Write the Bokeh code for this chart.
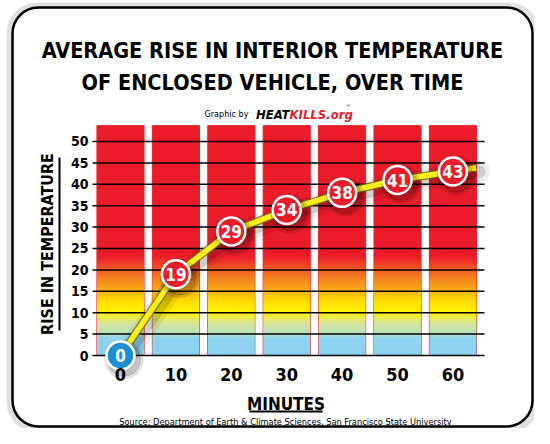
import numpy as np
from bokeh.plotting import figure
from bokeh.models import Range1d, FixedTicker, Label, BoxAnnotation
from bokeh.core.properties import value
from bokeh.embed import file_html
from bokeh.resources import INLINE

# ---- data ----
minutes = [0, 10, 20, 30, 40, 50, 60]
temp_rise = [0, 19, 29, 34, 38, 41, 43]
bar_top = [53.7] * 7
y_ticks = [0, 5, 10, 15, 20, 25, 30, 35, 40, 45, 50]
x_ticks = [0, 10, 20, 30, 40, 50, 60]
title1 = "AVERAGE RISE IN INTERIOR TEMPERATURE"
title2 = "OF ENCLOSED VEHICLE, OVER TIME"
source_text = "Source: Department of Earth & Climate Sciences, San Francisco State University"
# gradient colour stops (temperature value, colour)
grad_vals = [0, 4.0, 5.0, 7.5, 10.0, 12.5, 15.0, 17.5, 20.0, 23.0, 24.0]
grad_cols = ["#8dd3f2", "#8fd4ef", "#b9dfc0", "#d6e69a", "#fff200", "#ffe000",
             "#fbb116", "#f6891f", "#f15a24", "#e91d2a", "#e91d2a"]

FONT = "DejaVu Sans Condensed"
RED = "#e91d2a"

W, H = 534, 428
XS = 392 / 70.75   # px per minute
YS = 250 / 58.41   # px per degree

def xd(px):  # canvas x -> data x
    return (px - 120) / XS

def yd(py):  # canvas y -> data y
    return (355 - py) / YS

p = figure(width=W, height=H, output_backend="svg", toolbar_location=None,
           x_range=Range1d(xd(0), xd(W)), y_range=Range1d(yd(H), yd(0)),
           min_border=0, background_fill_color="white",
           border_fill_color="white", outline_line_color=None)

# bars
p.vbar(x=minutes, top=bar_top, bottom=0, width=8.5, color=RED, level="image")

# gradient overlay on the lower part of the bars
def hex2rgb(h):
    return [int(h[i:i + 2], 16) for i in (1, 3, 5)]

nrows = 480
rows_v = np.linspace(0, grad_vals[-1], nrows)
rgb = np.array([hex2rgb(c) for c in grad_cols], dtype=float)
img = np.zeros((nrows, 1), dtype=np.uint32)
view = img.view(dtype=np.uint8).reshape((nrows, 1, 4))
for k in range(3):
    view[:, 0, k] = np.interp(rows_v, grad_vals, rgb[:, k]).astype(np.uint8)
view[:, 0, 3] = 255
p.image_rgba(image=[img] * 7, x=[m - 4.25 for m in minutes], y=[0] * 7,
             dw=[8.5] * 7, dh=[grad_vals[-1]] * 7, level="image")

# horizontal rule lines at the y ticks (over the bars, under the line)
p.segment(x0=[xd(92)] * len(y_ticks), x1=[xd(484)] * len(y_ticks), y0=y_ticks, y1=y_ticks,
          line_color="black", line_width=1.5, level="underlay")

# line (extended a little past the last point along the last segment)
slope = (temp_rise[-1] - temp_rise[-2]) / (minutes[-1] - minutes[-2])
lx = minutes + [minutes[-1] + 4.2]
ly = temp_rise + [temp_rise[-1] + 4.2 * slope]
sx = [v + 0.5 for v in lx]
sy = [v - 0.9 for v in ly]
p.line(sx, sy, line_width=22, color="black", alpha=0.07, line_cap="round", line_join="round")
p.line(sx, sy, line_width=13, color="black", alpha=0.13, line_cap="round", line_join="round")
p.line(lx, ly, line_width=8, color="#6b6a10", alpha=0.8, line_join="round")
p.line(lx, ly, line_width=5.5, color="#fbee1d", line_join="round")

# markers
msx = [m + 0.6 for m in minutes]
msy = [t - 1.0 for t in temp_rise]
p.scatter(msx, msy, size=38, color="black", alpha=0.10)
p.scatter(msx, msy, size=33, color="black", alpha=0.14)
mcolors = ["#1b8fd2"] + [RED] * 6
p.scatter(minutes, temp_rise, size=28, fill_color=mcolors, line_color="white", line_width=2.5)
p.text(minutes, temp_rise, text=[str(t) for t in temp_rise], text_color="white",
       text_font=value(FONT), text_font_style="bold", text_font_size="17px",
       text_align="center", text_baseline="middle")

# axes, fixed inside the full-canvas frame
p.xaxis.fixed_location = yd(372)
p.yaxis.fixed_location = xd(92)
p.xaxis.bounds = (xd(92), xd(479))
p.yaxis.bounds = (yd(372), yd(115))
p.xaxis.ticker = FixedTicker(ticks=x_ticks)
p.yaxis.ticker = FixedTicker(ticks=y_ticks)
for ax in (p.xaxis[0], p.yaxis[0]):
    ax.axis_line_color = None
    ax.major_tick_line_color = None
    ax.minor_tick_line_color = None
    ax.major_tick_out = 0
    ax.major_tick_in = 0
    ax.major_label_text_font = FONT
    ax.major_label_text_font_style = "bold"
    ax.major_label_text_color = "black"
    ax.axis_label_text_font = FONT
    ax.axis_label_text_font_style = "bold"
    ax.axis_label_text_color = "black"
p.xaxis.major_label_text_font_size = "18px"
p.yaxis.major_label_text_font_size = "14px"
p.xaxis.major_label_standoff = -5
p.yaxis.major_label_standoff = 4
p.xaxis.axis_label = "MINUTES"
p.xaxis.axis_label_text_font_size = "17px"
p.xaxis.axis_label_standoff = 10
p.yaxis.axis_label = "RISE IN TEMPERATURE"
p.yaxis.axis_label_text_font_size = "16px"
p.yaxis.axis_label_standoff = 11
p.xgrid.visible = False
p.ygrid.visible = False

# titles & texts
def lab(text, px, py, size, align="center", color="black", style="bold", baseline="alphabetic"):
    p.add_layout(Label(x=xd(px), y=yd(py), text=text, text_font=FONT, text_font_size=size,
                       text_font_style=style, text_color=color, text_align=align,
                       text_baseline=baseline))

lab(title1, 272, 50, "21.5px")
lab(title2, 272, 82, "21.5px")
lab("Graphic by", 248, 113, "9px", align="right", style="normal")
lab("HEAT", 289, 114, "13px", align="right", style="bold italic")
lab("KILLS.org", 289, 114, "13px", align="left", style="bold italic", color=RED)
lab("™", 345, 106, "6px", align="left", style="normal")
lab(source_text, 285, 421, "9.2px", style="normal")

# underlines
p.add_layout(BoxAnnotation(left=xd(249), right=xd(322), top=yd(410), bottom=yd(412),
                           fill_color="black", fill_alpha=1, line_color=None))
p.add_layout(BoxAnnotation(left=xd(58), right=xd(60), top=yd(157), bottom=yd(330),
                           fill_color="black", fill_alpha=1, line_color=None))
# soft shadow and rounded frame
p.add_layout(BoxAnnotation(left=xd(9), right=xd(536), top=yd(5), bottom=yd(429),
                           fill_alpha=0, line_color="black", line_alpha=0.12, line_width=6,
                           border_radius=28))
p.add_layout(BoxAnnotation(left=xd(12), right=xd(532), top=yd(7), bottom=yd(426),
                           fill_alpha=0, line_color="black", line_alpha=1, line_width=2.5,
                           border_radius=26))

open("out.html", "w").write(file_html(p, INLINE))
